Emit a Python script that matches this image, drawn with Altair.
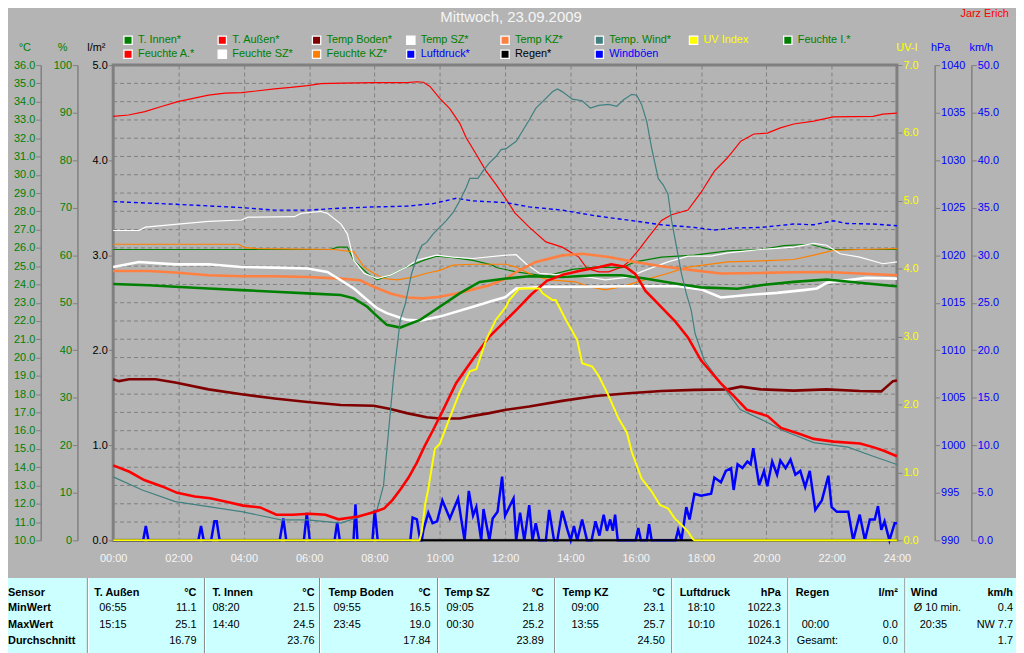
import altair as alt
import pandas as pd

TITLE = "Mittwoch, 23.09.2009"
AUTHOR = "Jarz Erich"

# ---------------- series values: (hour, value) ----------------
T_AUSSEN = [(0.0, 14.1), (0.5, 13.75), (0.95, 13.3), (1.5, 12.95), (1.96, 12.6), (2.5, 12.4), (2.97, 12.3),
            (3.5, 12.1), (3.98, 11.9), (4.5, 11.8), (5.0, 11.4), (5.5, 11.4), (6.0, 11.45), (6.5, 11.4),
            (6.9, 11.15), (7.5, 11.3), (8.0, 11.55), (8.3, 11.75), (8.55, 12.2), (8.8, 12.8), (9.05, 13.45),
            (9.3, 14.25), (9.55, 15.2), (9.8, 16.05), (10.15, 17.3), (10.5, 18.6), (11.05, 20.0), (11.5, 21.1),
            (12.06, 22.1), (12.37, 22.65), (12.8, 23.45), (13.28, 24.2), (13.8, 24.55), (14.3, 24.75),
            (14.9, 24.95), (15.25, 25.1), (15.7, 24.95), (16.0, 24.55), (16.3, 23.65), (16.6, 23.1),
            (17.2, 22.0), (17.6, 21.1), (18.0, 19.85), (18.6, 18.6), (19.03, 17.85), (19.4, 17.15),
            (20.04, 16.8), (20.45, 16.15), (21.05, 15.8), (21.45, 15.55), (22.06, 15.4), (22.87, 15.3),
            (23.27, 15.1), (23.6, 14.9), (24.0, 14.6)]

T_WIND = [(0.0, 13.47), (0.89, 12.75), (1.9, 12.12), (2.92, 11.84), (3.93, 11.57), (5.14, 11.12), (5.95, 11.12),
          (6.97, 10.94), (7.57, 11.3), (8.08, 11.66), (8.28, 13.02), (8.43, 15.91), (8.59, 18.98), (8.79, 22.06),
          (8.94, 22.9), (9.14, 24.6), (9.3, 25.5), (9.45, 26.13), (9.6, 26.3), (9.8, 26.77), (10.0, 27.12),
          (10.2, 27.49), (10.41, 27.94), (10.61, 28.57), (10.81, 29.3), (10.92, 29.8), (11.17, 29.8),
          (11.32, 30.2), (11.52, 30.65), (11.72, 31.0), (11.88, 31.38), (12.03, 31.43), (12.34, 31.83),
          (12.74, 33.0), (12.94, 33.63), (13.25, 34.18), (13.45, 34.54), (13.6, 34.7), (13.75, 34.55),
          (14.06, 34.14), (14.36, 34.05), (14.61, 33.65), (14.87, 33.8), (15.17, 33.85), (15.42, 33.75),
          (15.63, 34.1), (15.88, 34.4), (16.03, 34.35), (16.18, 33.85), (16.34, 32.91), (16.49, 31.45),
          (16.69, 29.8), (16.84, 29.45), (16.99, 28.94), (17.1, 27.49), (17.25, 26.05), (17.4, 24.6),
          (17.55, 23.5), (17.7, 22.6), (17.82, 21.3), (18.1, 19.85), (18.6, 18.6), (19.2, 17.15),
          (20.04, 16.45), (20.45, 16.05), (21.45, 15.35), (22.5, 15.1), (23.27, 14.6), (24.0, 14.15)]

T_BODEN = [(0.0, 18.81), (0.18, 18.71), (0.49, 18.81), (1.3, 18.81), (1.9, 18.63), (2.92, 18.26), (3.93, 17.99),
           (4.94, 17.76), (5.95, 17.57), (6.97, 17.4), (7.98, 17.36), (8.49, 17.18), (8.99, 16.96), (9.6, 16.73),
           (10.0, 16.67), (10.61, 16.67), (11.02, 16.81), (11.52, 16.96), (12.03, 17.14), (12.74, 17.32),
           (13.75, 17.63), (14.77, 17.9), (15.78, 18.05), (16.79, 18.17), (17.8, 18.23), (18.82, 18.26),
           (19.22, 18.41), (19.83, 18.26), (20.84, 18.19), (21.85, 18.26), (22.86, 18.17), (23.52, 18.15),
           (23.88, 18.71), (24.0, 18.75)]

T_INNEN = [(0.0, 24.02), (1.09, 23.96), (1.9, 23.87), (2.92, 23.78), (3.93, 23.69), (4.94, 23.6), (5.95, 23.51),
           (6.97, 23.42), (7.37, 23.24), (7.78, 22.78), (7.98, 22.43), (8.38, 21.79), (8.79, 21.64), (9.4, 22.06),
           (10.0, 22.78), (10.61, 23.51), (11.22, 24.14), (12.03, 24.32), (12.74, 24.45), (13.75, 24.41),
           (14.77, 24.5), (15.58, 24.5), (16.28, 24.32), (17.3, 24.02), (18.0, 23.84), (19.12, 23.76),
           (19.83, 23.96), (20.84, 24.14), (21.85, 24.27), (22.86, 24.09), (23.88, 23.91), (24.0, 23.9)]

TEMP_SZ = [(0.0, 24.95), (0.79, 25.23), (1.9, 25.1), (2.92, 25.1), (3.93, 24.95), (4.94, 24.92), (5.95, 24.87),
           (6.56, 24.68), (6.97, 24.23), (7.37, 23.78), (7.78, 23.15), (8.08, 22.7), (8.38, 22.43), (8.99, 22.06),
           (9.4, 22.02), (10.0, 22.24), (11.02, 22.78), (11.62, 23.11), (12.0, 23.3), (12.34, 23.78),
           (13.25, 23.87), (14.26, 23.87), (15.78, 23.9), (17.3, 23.9), (18.0, 23.73), (18.61, 23.29),
           (19.42, 23.42), (20.33, 23.54), (21.14, 23.69), (21.55, 23.78), (21.85, 24.09), (22.46, 24.23),
           (23.07, 24.36), (24.0, 24.32)]

TEMP_KZ = [(0.0, 24.74), (1.09, 24.74), (1.9, 24.65), (2.92, 24.5), (3.93, 24.45), (4.94, 24.45), (5.95, 24.41),
           (6.97, 24.32), (7.57, 24.23), (7.98, 23.87), (8.49, 23.51), (8.99, 23.29), (9.5, 23.24), (10.0, 23.33),
           (10.51, 23.51), (11.02, 23.73), (11.52, 23.96), (12.03, 24.32), (12.34, 24.68), (12.94, 25.23),
           (13.75, 25.59), (14.36, 25.68), (15.17, 25.5), (15.98, 25.23), (16.79, 24.99), (17.8, 24.77),
           (18.61, 24.6), (19.83, 24.63), (20.84, 24.67), (21.85, 24.68), (22.86, 24.6), (24.0, 24.5)]

FEUCHTE_I = [(0.0, 61.2), (6.66, 61.2), (6.87, 61.7), (7.17, 61.7), (7.37, 58.9), (7.78, 56.2), (8.08, 54.8),
             (8.49, 55.8), (8.99, 57.5), (9.5, 58.9), (9.9, 59.8), (10.41, 59.5), (11.02, 58.9), (11.62, 57.9),
             (11.73, 57.4), (12.34, 56.5), (13.25, 55.6), (14.06, 57.0), (14.77, 57.5), (15.58, 57.4),
             (15.98, 58.6), (16.79, 59.6), (17.8, 60.0), (18.82, 60.9), (19.83, 61.2), (20.54, 62.0),
             (21.35, 62.3), (21.95, 61.2), (24.0, 61.2)]

FEUCHTE_A = [(0.0, 89.2), (0.47, 89.5), (0.97, 90.2), (1.48, 91.3), (1.98, 92.3), (2.45, 93.0), (2.92, 93.7),
             (3.43, 94.1), (3.93, 94.2), (4.94, 95.0), (5.44, 95.3), (5.95, 95.7), (6.36, 96.1), (7.0, 96.2),
             (8.0, 96.3), (9.0, 96.3), (9.3, 96.5), (9.5, 96.4), (9.7, 95.5), (10.0, 93.0), (10.3, 90.9),
             (10.61, 87.8), (10.81, 84.7), (11.12, 81.2), (11.42, 77.7), (11.72, 74.9), (12.03, 71.8),
             (12.3, 68.9), (12.74, 65.9), (13.25, 62.8), (13.75, 61.7), (14.26, 59.6), (14.51, 57.2),
             (14.87, 56.5), (15.17, 56.5), (15.58, 57.5), (15.78, 58.6), (16.08, 61.0), (16.39, 63.8),
             (16.79, 67.3), (17.1, 68.5), (17.6, 69.5), (18.0, 73.2), (18.41, 77.7), (18.81, 80.5),
             (19.22, 84.0), (19.62, 85.5), (20.03, 85.7), (20.43, 86.8), (20.84, 87.6), (21.45, 88.2),
             (22.05, 89.1), (23.27, 89.2), (23.57, 89.7), (24.0, 89.9)]

FEUCHTE_SZ = [(0.0, 65.2), (0.79, 65.2), (0.99, 65.9), (1.9, 66.5), (2.92, 67.1), (3.93, 67.4), (4.13, 68.0),
              (5.55, 68.1), (5.75, 68.8), (6.36, 69.2), (6.56, 68.8), (6.97, 66.6), (7.17, 64.5), (7.37, 58.9),
              (7.68, 56.2), (8.08, 55.1), (8.49, 55.8), (8.99, 57.5), (9.3, 58.9), (9.9, 60.0), (10.41, 59.6),
              (11.02, 59.3), (12.03, 60.0), (12.34, 60.1), (12.64, 58.2), (13.05, 56.2), (13.75, 55.8),
              (14.56, 55.4), (15.07, 54.8), (15.78, 55.4), (16.28, 56.8), (16.99, 58.6), (17.6, 59.8),
              (18.31, 59.8), (18.82, 60.5), (19.83, 61.2), (20.84, 61.7), (21.45, 62.5), (21.85, 62.1),
              (22.26, 60.3), (22.86, 59.6), (23.57, 58.2), (24.0, 58.6)]

FEUCHTE_KZ = [(0.0, 62.3), (3.83, 62.3), (4.03, 61.6), (4.43, 61.4), (6.76, 61.2), (7.37, 60.7), (7.68, 57.5),
              (7.98, 56.2), (8.28, 55.1), (8.69, 54.8), (9.19, 55.4), (9.6, 56.2), (10.0, 56.8), (10.41, 57.9),
              (11.02, 58.1), (12.03, 58.1), (12.34, 57.5), (12.84, 55.8), (13.35, 54.8), (14.16, 54.4),
              (14.56, 53.4), (15.07, 52.7), (15.58, 53.4), (16.28, 54.8), (16.99, 56.2), (17.6, 57.5),
              (18.82, 58.6), (19.83, 58.8), (20.84, 59.1), (21.45, 60.0), (22.05, 61.0), (22.86, 61.2),
              (24.0, 61.4)]

LUFTDRUCK = [(0.0, 1025.64), (1.9, 1025.36), (3.93, 1025.01), (4.94, 1024.74), (5.95, 1024.74), (6.97, 1024.95),
             (7.98, 1025.08), (8.99, 1025.16), (9.8, 1025.43), (10.51, 1025.99), (11.02, 1025.71),
             (12.03, 1025.53), (12.74, 1025.08), (13.75, 1024.74), (14.77, 1024.14), (15.78, 1023.69),
             (16.79, 1023.2), (17.8, 1022.92), (18.41, 1022.65), (19.02, 1022.86), (19.83, 1022.92),
             (20.84, 1023.28), (21.45, 1023.2), (22.05, 1023.62), (22.46, 1023.34), (23.27, 1023.28),
             (24.0, 1023.1)]

UV_INDEX = [(0.0, 0.0), (9.38, 0.0), (9.45, 0.13), (9.55, 0.52), (9.65, 0.76), (9.85, 1.35), (10.0, 1.42),
            (10.31, 1.81), (10.61, 2.18), (10.92, 2.49), (11.12, 2.52), (11.42, 2.95), (11.72, 3.25),
            (12.03, 3.44), (12.13, 3.54), (12.44, 3.71), (13.05, 3.71), (13.15, 3.64), (13.45, 3.54),
            (13.55, 3.54), (13.86, 3.25), (14.21, 2.95), (14.36, 2.61), (14.67, 2.56), (14.87, 2.42),
            (15.17, 2.13), (15.48, 1.79), (15.73, 1.59), (15.88, 1.3), (16.18, 0.91), (16.49, 0.72),
            (16.74, 0.52), (16.99, 0.47), (17.2, 0.32), (17.4, 0.23), (17.6, 0.13), (17.75, 0.02),
            (17.8, 0.0), (24.0, 0.0)]

REGEN = [(0.0, 0.0), (24.0, 0.0)]

WINDBOEEN = [(0.0, 0), (0.92, 0), (1.0, 1.5), (1.08, 0), (2.61, 0), (2.69, 1.5), (2.77, 0), (3.0, 0),
             (3.1, 2.0), (3.17, 2.0), (3.26, 0), (5.1, 0), (5.21, 2.3), (5.3, 0), (5.84, 0), (5.93, 2.9),
             (6.02, 0), (6.78, 0), (6.86, 1.9), (6.94, 0), (7.36, 0), (7.42, 3.8), (7.48, 0), (7.94, 0),
             (8.01, 3.2), (8.1, 0), (9.1, 0), (9.17, 2.4), (9.3, 2.2), (9.4, 0), (9.45, 0), (9.5, 1.1),
             (9.65, 2.9), (9.78, 1.8), (9.92, 2.0), (10.08, 4.2), (10.31, 2.3), (10.56, 4.4), (10.76, 0),
             (10.89, 5.2), (11.02, 2.6), (11.12, 3.5), (11.27, 0), (11.34, 3.3), (11.52, 0), (11.62, 2.3),
             (11.77, 3.0), (11.91, 6.7), (12.0, 2.6), (12.13, 3.5), (12.26, 4.4), (12.34, 0), (12.46, 2.9),
             (12.59, 0), (12.74, 3.7), (12.84, 0), (12.94, 1.8), (13.05, 0), (13.25, 0), (13.35, 3.2),
             (13.5, 0), (13.6, 0), (13.75, 3.1), (13.91, 1.1), (14.01, 0), (14.11, 1.5), (14.21, 0),
             (14.36, 2.2), (14.51, 0), (14.65, 0), (14.77, 2.0), (14.89, 0.5), (15.02, 2.7), (15.12, 1.0),
             (15.22, 2.2), (15.3, 1.0), (15.37, 2.7), (15.45, 0), (16.0, 0), (16.08, 1.3), (16.16, 0),
             (16.34, 0), (16.41, 1.7), (16.49, 0), (17.22, 0), (17.3, 1.1), (17.4, 0), (17.55, 3.5),
             (17.65, 2.2), (17.8, 4.9), (18.0, 4.7), (18.31, 4.9), (18.41, 6.6), (18.61, 6.1), (18.76, 7.3),
             (18.92, 7.6), (19.0, 5.3), (19.12, 8.0), (19.27, 7.6), (19.42, 8.3), (19.52, 8.0), (19.6, 9.7),
             (19.73, 6.9), (19.78, 5.8), (19.93, 7.3), (20.03, 5.7), (20.18, 8.3), (20.33, 6.9), (20.43, 8.4),
             (20.59, 7.6), (20.74, 8.5), (20.89, 6.9), (21.04, 7.3), (21.19, 5.6), (21.33, 7.3), (21.5, 3.2),
             (21.7, 4.2), (21.9, 6.8), (22.0, 3.5), (22.16, 3.0), (22.36, 3.0), (22.51, 3.0), (22.66, 0),
             (22.86, 2.7), (23.02, 0), (23.17, 2.2), (23.32, 2.2), (23.42, 3.6), (23.52, 1.1), (23.62, 2.0),
             (23.77, 0), (23.93, 1.8), (24.0, 1.8)]

# ---------------- axis tick lists ----------------
HOURS = list(range(0, 25, 2))
CELSIUS_TICKS = list(range(10, 37))
PERCENT_TICKS = list(range(0, 101, 10))
RAIN_TICKS = [0, 1, 2, 3, 4, 5]
UV_TICKS = [0, 1, 2, 3, 4, 5, 6, 7]
HPA_TICKS = list(range(990, 1041, 5))
KMH_TICKS = list(range(0, 51, 5))

# ---------------- legend ----------------
LEGEND_ROW1 = [("T. Innen*", "#008000", "#008000"), ("T. Außen*", "#FF0000", "#008000"),
               ("Temp Boden*", "#800000", "#008000"), ("Temp SZ*", "#FFFFFF", "#008000"),
               ("Temp KZ*", "#FF8040", "#008000"), ("Temp. Wind*", "#408080", "#008000"),
               ("UV Index", "#FFFF00", "#FFFF00"), ("Feuchte I.*", "#008000", "#008000")]
LEGEND_ROW2 = [("Feuchte A.*", "#FF0000", "#008000"), ("Feuchte SZ*", "#FFFFFF", "#008000"),
               ("Feuchte KZ*", "#FF8000", "#008000"), ("Luftdruck*", "#0000FF", "#0000FF"),
               ("Regen*", "#000000", "#000000"), ("Windböen", "#0000FF", "#0000FF")]

# ---------------- summary table ----------------
ROW_LABELS = ["Sensor", "MinWert", "MaxWert", "Durchschnitt"]
TAB_NAME = ["T. Außen", "T. Innen", "Temp Boden", "Temp SZ", "Temp KZ", "Luftdruck", "Regen", "Wind"]
TAB_UNIT = ["°C", "°C", "°C", "°C", "°C", "hPa", "l/m²", "km/h"]
TAB_MIN_T = ["06:55", "08:20", "09:55", "09:05", "09:00", "18:10", "", "Ø 10 min."]
TAB_MIN_V = ["11.1", "21.5", "16.5", "21.8", "23.1", "1022.3", "", "0.4"]
TAB_MAX_T = ["15:15", "14:40", "23:45", "00:30", "13:55", "10:10", "00:00", "20:35"]
TAB_MAX_V = ["25.1", "24.5", "19.0", "25.2", "25.7", "1026.1", "0.0", "NW 7.7"]
TAB_AVG_T = ["", "", "", "", "", "", "Gesamt:", ""]
TAB_AVG_V = ["16.79", "23.76", "17.84", "23.89", "24.50", "1024.3", "0.0", "1.7"]

# ---------------- layout ----------------
W, H = 790, 479
X0, Y0 = 114, 63                     # page position of the plot area
FONT = "Liberation Sans"
GREY = "#808080"
BG = "#B4B4B4"
GREEN = "#008000"
BLUE = "#0000FF"
YELLOW = "#FFFF00"


def rx(x):
    return x - X0


def ry(y):
    return y - Y0


X_ENC = alt.X("h:Q", scale=alt.Scale(domain=[0, 24], nice=False, zero=False),
              axis=alt.Axis(values=HOURS,
                            labelExpr="(datum.value < 10 ? '0' : '') + datum.value + ':00'",
                            labelColor="#F6F6F6", labelFont=FONT, labelFontSize=11, labelPadding=12,
                            labelFlush=False, labelOverlap=False, ticks=False, domain=False,
                            grid=True, gridColor=GREY, gridDash=[4, 3], gridWidth=1, title=None))


def y_axis(orient, offset, values, fmt, color, domain=True):
    return alt.Axis(orient=orient, offset=offset, values=values, format=fmt, labelColor=color,
                    labelFont=FONT, labelFontSize=11, labelPadding=1, labelOverlap=False,
                    tickColor=GREY, tickSize=5, tickWidth=1, domain=domain, domainColor=GREY,
                    domainWidth=1.5, grid=False, title=None)


def series(pairs, dom, color, width, axis=None, dash=None):
    data = pd.DataFrame(pairs, columns=["h", "v"])
    props = dict(color=color, strokeWidth=width)
    if dash:
        props["strokeDash"] = dash
    return alt.Chart(data).mark_line(**props).encode(
        x=X_ENC,
        y=alt.Y("v:Q", scale=alt.Scale(domain=dom, nice=False, zero=False), axis=axis))


layers = []

# horizontal dashed grid at every degree, carrying the °C axis
grid_df = pd.DataFrame({"c": CELSIUS_TICKS})
layers.append(alt.Chart(grid_df).mark_rule(color=GREY, strokeDash=[4, 3], strokeWidth=1).encode(
    y=alt.Y("c:Q", scale=alt.Scale(domain=[10, 36], nice=False, zero=False),
            axis=y_axis("left", 73, CELSIUS_TICKS, ".1f", GREEN)),
    x=alt.value(0), x2=alt.value(W)))

C_DOM = [10, 36]
P_DOM = [0, 100]

layers.append(series(WINDBOEEN, [0, 50], BLUE, 2.5, axis=y_axis("right", 75, KMH_TICKS, ".1f", BLUE)))
layers.append(series(REGEN, [0, 5], "#000000", 2, axis=y_axis("left", 0, RAIN_TICKS, ".1f", "#000000", domain=False)))
layers.append(series(FEUCHTE_A, P_DOM, "#FF0000", 1.2, axis=y_axis("left", 36, PERCENT_TICKS, "d", GREEN)))
layers.append(series(FEUCHTE_I, P_DOM, "#008000", 1.2))
layers.append(series(FEUCHTE_KZ, P_DOM, "#FF8000", 1.2))
layers.append(series(FEUCHTE_SZ, P_DOM, "#FFFFFF", 1.2))
layers.append(series(LUFTDRUCK, [990, 1040], BLUE, 1.4,
                     axis=y_axis("right", 38, HPA_TICKS, "d", BLUE), dash=[4, 3]))
layers.append(series(T_BODEN, C_DOM, "#800000", 2.6))
layers.append(series(TEMP_KZ, C_DOM, "#FF8040", 2.6))
layers.append(series(TEMP_SZ, C_DOM, "#FFFFFF", 2.6))
layers.append(series(T_INNEN, C_DOM, "#008000", 2.6))
layers.append(series(T_WIND, C_DOM, "#408080", 1.2))
layers.append(series(T_AUSSEN, C_DOM, "#FF0000", 2.6))
layers.append(series(UV_INDEX, [0, 7], YELLOW, 2, axis=y_axis("right", 0, UV_TICKS, ".1f", YELLOW, domain=False)))

PX = alt.X("x:Q", scale=None, axis=None)
PY = alt.Y("y:Q", scale=None, axis=None)


def text_layer(rows, align, bold=False, size=11, color=None):
    df = pd.DataFrame(rows)
    props = dict(align=align, baseline="middle", font=FONT, fontSize=size)
    if bold:
        props["fontWeight"] = "bold"
    enc = dict(x=PX, y=PY, text="t:N")
    if color is None:
        enc["color"] = alt.Color("c:N", scale=None)
    else:
        props["color"] = color
    return alt.Chart(df).mark_text(**props).encode(**enc)


# title, author, axis captions
layers.append(text_layer([dict(t=TITLE, x=rx(515), y=ry(15), c="#F6F6F6")], "center", size=15))
layers.append(text_layer([dict(t=AUTHOR, x=rx(968), y=ry(12), c="#FF0000")], "left"))
layers.append(text_layer([
    dict(t="°C", x=rx(25), y=ry(46), c=GREEN), dict(t="%", x=rx(63), y=ry(46), c=GREEN),
    dict(t="l/m²", x=rx(97), y=ry(46), c="#000000"), dict(t="UV-I", x=rx(914), y=ry(46), c=YELLOW),
    dict(t="hPa", x=rx(948), y=ry(46), c=BLUE), dict(t="km/h", x=rx(989), y=ry(46), c=BLUE)], "center"))

# legend
leg_rows = []
for r, row in enumerate([LEGEND_ROW1, LEGEND_ROW2]):
    for i, (name, sw, tc) in enumerate(row):
        leg_rows.append(dict(t=name, sw=sw, c=tc, sx=rx(129 + 95 * i), x=rx(139 + 95 * i), y=ry(38 + 14 * r)))
leg_df = pd.DataFrame(leg_rows)
layers.append(alt.Chart(leg_df).mark_square(size=70, opacity=1, stroke="#FFFFFF", strokeWidth=1.3).encode(
    x=alt.X("sx:Q", scale=None, axis=None), y=PY, fill=alt.Fill("sw:N", scale=None)))
layers.append(text_layer(leg_rows, "left"))

# table background and separators
layers.append(alt.Chart(pd.DataFrame({"k": [0]})).mark_rect(color="#CCFFFF").encode(
    x=alt.value(rx(0)), x2=alt.value(rx(1030)), y=alt.value(ry(580)), y2=alt.value(ry(660))))
SEPS = [88, 206, 322, 441, 559, 677, 794, 912]
sep_df = pd.DataFrame({"x": [rx(s) for s in SEPS], "x1": [rx(s + 1) for s in SEPS]})
layers.append(alt.Chart(sep_df).mark_rule(color=GREY, strokeWidth=1).encode(
    x=PX, y=alt.value(ry(580)), y2=alt.value(ry(660))))
layers.append(alt.Chart(sep_df).mark_rule(color="#FFFFFF", strokeWidth=1).encode(
    x=alt.X("x1:Q", scale=None, axis=None), y=alt.value(ry(580)), y2=alt.value(ry(660))))

ROW_Y = [595, 610.5, 627, 643.5]
NAME_X = [95, 214, 331, 448, 567, 685, 802, 918]
VAL_R = [198, 317, 434, 548, 670, 787, 905, 1021]
MIN_TX = [100, 214, 336, 450, 576, 693, 808, 921]
MAX_TX = [100, 214, 336, 450, 576, 693, 808, 927]
AVG_TX = [100, 214, 336, 450, 576, 693, 803, 927]

bold_left = [dict(t=lbl, x=rx(8), y=ry(ROW_Y[k])) for k, lbl in enumerate(ROW_LABELS)]
bold_left += [dict(t=n, x=rx(NAME_X[i]), y=ry(ROW_Y[0])) for i, n in enumerate(TAB_NAME)]
bold_right = [dict(t=u, x=rx(VAL_R[i]), y=ry(ROW_Y[0])) for i, u in enumerate(TAB_UNIT)]
norm_left, norm_right = [], []
for k, (tl, vl, txs) in enumerate([(TAB_MIN_T, TAB_MIN_V, MIN_TX), (TAB_MAX_T, TAB_MAX_V, MAX_TX),
                                   (TAB_AVG_T, TAB_AVG_V, AVG_TX)]):
    for i in range(len(TAB_NAME)):
        if tl[i]:
            norm_left.append(dict(t=tl[i], x=rx(txs[i]), y=ry(ROW_Y[k + 1])))
        if vl[i]:
            norm_right.append(dict(t=vl[i], x=rx(VAL_R[i]), y=ry(ROW_Y[k + 1])))

layers.append(text_layer(bold_left, "left", bold=True, color="#000000"))
layers.append(text_layer(bold_right, "right", bold=True, color="#000000"))
layers.append(text_layer(norm_left, "left", color="#000000"))
layers.append(text_layer(norm_right, "right", color="#000000"))

chart = alt.layer(*layers).resolve_scale(y="independent").properties(
    width=W, height=H,
    autosize=alt.AutoSizeParams(type="none"),
    padding={"left": X0 - 8, "top": Y0 - 8, "right": 1024 - 8 - (X0 - 8) - W, "bottom": 653 - 8 - (Y0 - 8) - H},
    background=BG,
).configure_view(stroke=GREY, strokeWidth=3)

chart.save("out.html", embed_options={"renderer": "svg", "actions": False})
